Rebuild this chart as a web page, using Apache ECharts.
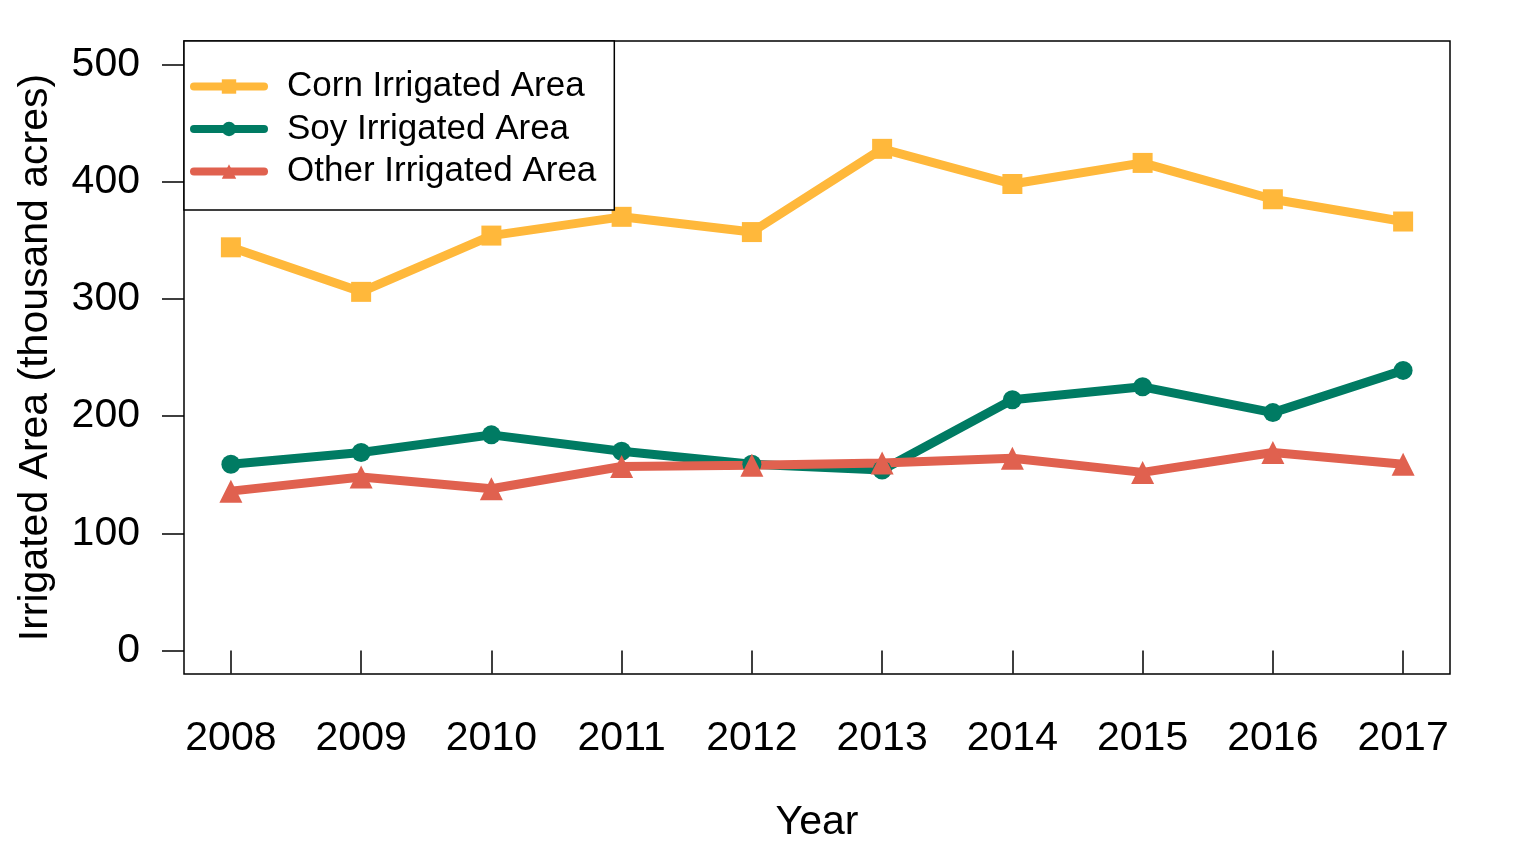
<!DOCTYPE html>
<html>
<head>
<meta charset="utf-8">
<script src="https://cdn.jsdelivr.net/npm/echarts@6/dist/echarts.min.js"></script>
<style>html,body{margin:0;padding:0;background:#fff}#c{width:1516px;height:852px}</style>
</head>
<body>
<div id="c"></div>
<script>
const years = [2008, 2009, 2010, 2011, 2012, 2013, 2014, 2015, 2016, 2017];
const corn  = [344, 306, 354, 370, 357, 428, 398, 416, 385, 366];
const soy   = [159, 169, 184, 170, 159, 154, 214, 225, 203, 239];
const other = [136, 148, 138, 157, 158, 160, 164, 152, 169, 159];
const yTicks = [0, 100, 200, 300, 400, 500];
const seriesNames = ['Corn Irrigated Area', 'Soy Irrigated Area', 'Other Irrigated Area'];

const FONT = "'Liberation Sans', Arial, sans-serif";
const pairs = arr => years.map((y, i) => [y, arr[i]]);

const chart = echarts.init(document.getElementById('c'), null, {renderer: 'canvas'});
chart.setOption({
  animation: false,
  backgroundColor: '#fff',
  grid: {left: 184, top: 41, width: 1266, height: 633, show: true, borderColor: '#000', borderWidth: 1.5, backgroundColor: 'transparent'},
  xAxis: {
    type: 'value', min: 2007.64, max: 2017.36,
    name: 'Year', nameLocation: 'middle', nameGap: 128,
    nameTextStyle: {fontFamily: FONT, fontSize: 41, color: '#000'},
    axisLine: {show: false},
    splitLine: {show: false},
    axisTick: {show: true, inside: false, length: 23, customValues: years, lineStyle: {color: '#000', width: 1.5}},
    axisLabel: {customValues: years, margin: 44, fontFamily: FONT, fontSize: 41, color: '#000', formatter: v => String(Math.round(v))}
  },
  yAxis: {
    type: 'value', min: -20, max: 520,
    name: 'Irrigated Area (thousand acres)', nameLocation: 'middle', nameGap: 128,
    nameTextStyle: {fontFamily: FONT, fontSize: 41, color: '#000'},
    axisLine: {show: false},
    splitLine: {show: false},
    axisTick: {show: true, inside: false, length: 22, customValues: yTicks, lineStyle: {color: '#000', width: 1.5}},
    axisLabel: {customValues: yTicks, margin: 44, fontFamily: FONT, fontSize: 41, color: '#000'}
  },
  legend: {
    orient: 'vertical', left: 184, top: 41,
    backgroundColor: '#fff', borderColor: '#000', borderWidth: 1.5,
    padding: [28, 18, 21, 6],
    itemWidth: 70, itemHeight: 18, itemGap: 7.5,
    lineStyle: {width: 8, cap: 'round'},
    textStyle: {fontFamily: FONT, fontSize: 35, color: '#000', padding: [0, 0, 0, 18]},
    data: seriesNames
  },
  series: [
    {name: seriesNames[0], type: 'line', data: pairs(corn), color: '#FFB83B',
     lineStyle: {width: 9, color: '#FFB83B'}, symbol: 'rect', symbolSize: 20, itemStyle: {color: '#FFB83B'}},
    {name: seriesNames[1], type: 'line', data: pairs(soy), color: '#007B63',
     lineStyle: {width: 9, color: '#007B63'}, symbol: 'circle', symbolSize: 19, itemStyle: {color: '#007B63'}},
    {name: seriesNames[2], type: 'line', data: pairs(other), color: '#E0614F',
     lineStyle: {width: 9, color: '#E0614F'}, symbol: 'triangle', symbolSize: 23, itemStyle: {color: '#E0614F'}}
  ]
});
</script>
</body>
</html>
